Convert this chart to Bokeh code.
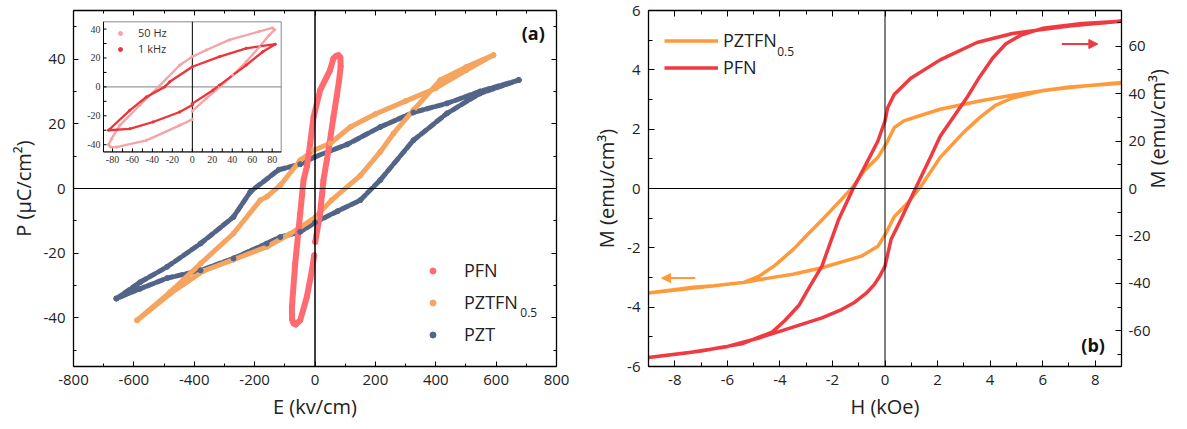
import math
from bokeh.plotting import figure
from bokeh.models import (Range1d, LinearAxis, FixedTicker, Span, Legend, LegendItem,
                          Label, Arrow, NormalHead, CustomJSTickFormatter, PrintfTickFormatter)
from bokeh.layouts import row
from bokeh.embed import file_html
from bokeh.resources import INLINE

FONT = "Open Sans"

# ---------------- data: panel (a) main P-E loops ----------------
pfn_E = [0.7, 17, 28, 44.7, 61, 72, 80, 85, 84, 78, 70, 61, 50, 17, -5, -16, -27, -38, -49, -65.6,
         -76.5, -76, -71, -64, -49, -27, -10, -2.6]
pfn_P = [-16.5, -7.7, 2.6, 11.8, 22, 28.5, 33.5, 37.8, 40.5, 41.2, 41, 40.2, 36.6, 30.4, 22, 13.9, 6.7,
         2.6, -7.7, -23.2, -36.6, -40.5, -41.7, -42, -40.7, -33.5, -25.2, -20.6]

pztfn_up_E = [591, 500, 400, 300, 200, 117, 51, -4, -49, -115, -159, -181, -270, -379, -480, -589]
pztfn_up_P = [41.2, 36.5, 31, 27, 23, 19, 14, 11.8, 8.7, 1, -2.5, -3.6, -13.9, -23.2, -32, -40.7]
pztfn_lo_E = [-589, -480, -370, -270, -159, -82, 0, 55, 150, 216, 260, 326, 415, 500, 591]
pztfn_lo_P = [-40.7, -32.5, -25.5, -22, -18, -14, -9, -3.6, 4, 11.3, 17, 24.2, 33.5, 37.5, 41.2]

pzt_up_E = [675, 547, 437, 326, 216, 106, 0, -49, -120, -214, -270, -379, -490, -580, -658]
pzt_up_P = [33.5, 30, 26.3, 23.5, 19, 13.6, 9.8, 7.5, 5.8, -1, -8.8, -17, -24.2, -29, -34]
pzt_lo_E = [-658, -580, -490, -379, -270, -160, -115, -49, 0, 75, 150, 216, 326, 437, 547, 675]
pzt_lo_P = [-34, -31, -27.7, -25.3, -21.6, -17, -15, -13.4, -10.5, -7, -3.6, 2.6, 14.9, 23.2, 29.4, 33.5]

# ---------------- data: panel (a) inset ----------------
hz50_E = [0, 14, 27.3, 40.6, 54, 67.3, 77.3, 82.5, 80, 67, 37, 14, 0, -12.7, -34, -52.7, -72.7, -81,
          -84, -82, -76, -46, -12.7, 0]
hz50_P = [-16.7, -8, 0, 8.1, 17.4, 27.8, 36, 39.5, 40.8, 38.3, 32.5, 25.5, 20.9, 15, 0, -12.7, -26.6,
          -36, -40, -41.5, -41.7, -37, -26.6, -22.5]
khz1_E = [0, 20.6, 27.3, 54, 70.6, 83, 54, 27.3, 0, -22.7, -27.7, -46, -62.7, -84, -62.7, -39.4, -12.7, 0]
khz1_P = [-11.6, -2.3, 1.2, 15.1, 24.3, 29.5, 26.7, 20.9, 13.9, 3.5, 0, -7, -16.2, -30, -29, -24.3,
          -17.4, -12.5]
inset_ticks = [-80, -60, -40, -20, 0, 20, 40, 60, 80]
inset_minor = [-70, -50, -30, -10, 10, 30, 50, 70]
inset_yticks = [-40, -20, 0, 20, 40]
inset_yminor = [-30, -10, 10, 30]

# ---------------- data: panel (b) M-H loops ----------------
mz_up_H = [9, 7, 5, 3.6, 2.1, 1.2, 0.72, 0.35, 0.04, -0.27, -0.78, -1.27, -1.8, -2.4, -3.0, -3.5, -4.2,
           -4.78, -5.4, -6.5, -7.3, -9]
mz_up_M = [3.55, 3.42, 3.17, 2.95, 2.67, 2.42, 2.28, 2.05, 1.5, 1.05, 0.61, 0, -0.5, -1.06, -1.6, -2.06,
           -2.6, -2.95, -3.17, -3.28, -3.33, -3.52]
mz_lo_H = [-9, -7, -5.4, -4.5, -3.5, -2.4, -0.9, -0.27, 0.04, 0.35, 0.85, 1.35, 2.1, 3.0, 3.6, 4.2,
           4.85, 6, 7.5, 9]
mz_lo_M = [-3.52, -3.33, -3.17, -3.03, -2.89, -2.67, -2.28, -1.95, -1.5, -0.95, -0.5, 0.05, 1.05, 1.9,
           2.39, 2.8, 3.05, 3.3, 3.45, 3.57]

pfnb_up_H = [9, 7, 4.85, 3.5, 2.1, 0.98, 0.35, 0.1, 0, -0.27, -0.78, -1.21, -1.77, -2.4, -2.9, -3.28,
             -3.8, -4.28, -5.4, -7, -9]
pfnb_up_M = [70.5, 68.5, 65.3, 61.5, 54.2, 46.5, 39.6, 34, 28.5, 20, 9, 0, -13.2, -32.7, -42, -49.3,
             -55.5, -60.4, -65.3, -68.5, -71.2]
pfnb_lo_H = [-9, -7.5, -6.03, -4.8, -3.53, -2.4, -1.65, -1.15, -0.7, -0.41, -0.2, 0, 0.23, 0.6, 1.16,
             1.73, 2.1, 2.6, 3.1, 3.6, 4.1, 4.6, 5.2, 6, 7.5, 9]
pfnb_lo_M = [-71.2, -69.2, -66.7, -63, -58.5, -54.5, -51, -47.9, -44, -40.5, -37, -32.7, -21.5, -13.2,
             0, 13.2, 22, 30, 38, 47, 55, 61, 64.8, 67.5, 69.5, 70.5]

# tick values
a_xticks = [-800, -600, -400, -200, 0, 200, 400, 600, 800]
a_xminor = [-700, -500, -300, -100, 100, 300, 500, 700]
a_yticks = [-40, -20, 0, 20, 40]
a_yminor = [-50, -30, -10, 10, 30, 50]
b_xticks = [-8, -6, -4, -2, 0, 2, 4, 6, 8]
b_xminor = [-9, -7, -5, -3, -1, 1, 3, 5, 7, 9]
b_yticks = [-6, -4, -2, 0, 2, 4, 6]
b_yminor = [-5, -3, -1, 1, 3, 5]
b_rticks = [-60, -40, -20, 0, 20, 40, 60]
b_rminor = [-70, -50, -30, -10, 10, 30, 50, 70]

C_PFN_A = "#FF6B70"
C_PZTFN_A = "#F5A55F"
C_PZT = "#526488"
C_50 = "#F5A3A5"
C_1K = "#EC343A"
C_PZTFN_B = "#FF9A3C"
C_PFN_B = "#EE3A40"


def style_axis(ax, maj_in, min_in, fs="15px"):
    ax.major_tick_in = maj_in
    ax.major_tick_out = 0
    ax.minor_tick_in = min_in
    ax.minor_tick_out = 0
    ax.axis_line_color = "black"
    ax.axis_line_width = 1.3
    ax.major_tick_line_color = "black"
    ax.minor_tick_line_color = "black"
    ax.major_label_text_font = FONT
    ax.major_label_text_font_size = fs
    ax.major_label_text_color = "#222222"
    ax.axis_label_text_font = FONT
    ax.axis_label_text_font_style = "normal"
    ax.axis_label_text_font_size = "20px"
    ax.axis_label_text_color = "#222222"
    ax.formatter = PrintfTickFormatter(format="%d")


def mirror_axis(p, loc, major, minor, maj_in, min_in, rng=None):
    kw = {}
    if rng is not None:
        kw["y_range_name"] = rng
    ax = LinearAxis(ticker=FixedTicker(ticks=major, minor_ticks=minor), **kw)
    style_axis(ax, maj_in, min_in)
    ax.formatter = CustomJSTickFormatter(code="return ''")
    ax.major_label_text_font_size = "0px"
    ax.major_label_standoff = 0
    p.add_layout(ax, loc)


# ================= panel (a) =================
pa = figure(width=590, height=429, x_range=Range1d(-800, 800), y_range=Range1d(-55, 55),
            output_backend="svg", toolbar_location=None,
            min_border_left=73, min_border_right=34, min_border_top=10, min_border_bottom=63)
pa.xgrid.visible = False
pa.ygrid.visible = False
pa.outline_line_color = None
pa.xaxis.ticker = FixedTicker(ticks=a_xticks, minor_ticks=a_xminor)
pa.yaxis.ticker = FixedTicker(ticks=a_yticks, minor_ticks=a_yminor)
for ax in pa.xaxis + pa.yaxis:
    style_axis(ax, 5, 3)
pa.xaxis.axis_label = "E (kv/cm)"
pa.yaxis.axis_label = "P (μC/cm²)"
pa.xaxis.major_label_standoff = 8
pa.yaxis.major_label_standoff = 8
pa.xaxis.axis_label_standoff = 5
pa.yaxis.axis_label_standoff = 4
mirror_axis(pa, "above", a_xticks, a_xminor, 5, 3)
mirror_axis(pa, "right", a_yticks, a_yminor, 5, 3)

pa.add_layout(Span(location=0, dimension="width", line_color="black", line_width=1.2))
pa.add_layout(Span(location=0, dimension="height", line_color="black", line_width=1.5))

pa.line(pzt_up_E + pzt_lo_E, pzt_up_P + pzt_lo_P, line_color=C_PZT, line_width=5,
        line_dash="7 3", line_cap="round", line_join="round")
pa.line(pztfn_up_E + pztfn_lo_E, pztfn_up_P + pztfn_lo_P, line_color=C_PZTFN_A, line_width=5,
        line_cap="round", line_join="round")
pa.line(pfn_E, pfn_P, line_color=C_PFN_A, line_width=6, line_cap="round", line_join="round")

r_pfn = pa.scatter(pfn_E, pfn_P, size=5, color=C_PFN_A)
r_pztfn = pa.scatter(pztfn_up_E + pztfn_lo_E, pztfn_up_P + pztfn_lo_P, size=5, color=C_PZTFN_A)
r_pzt = pa.scatter(pzt_up_E + pzt_lo_E, pzt_up_P + pzt_lo_P, size=5, color=C_PZT)

leg_a = Legend(items=[LegendItem(label="PFN", renderers=[r_pfn]),
                      LegendItem(label="PZTFN", renderers=[r_pztfn]),
                      LegendItem(label="PZT", renderers=[r_pzt])],
               location=(352, 20), glyph_width=15, glyph_height=15, label_height=15,
               label_standoff=24, spacing=8, padding=0, margin=0,
               border_line_color=None, background_fill_alpha=0,
               label_text_font=FONT, label_text_font_size="18px", label_text_color="#222222")
pa.add_layout(leg_a)
pa.add_layout(Label(x=680, y=-39.6, text="0.5", text_font=FONT, text_font_size="12px",
                    text_color="#222222"))
pa.add_layout(Label(x=723, y=48, text="(a)", text_font=FONT, text_font_size="18px",
                    text_font_style="bold", text_align="center", text_baseline="middle",
                    text_color="#111111"))

# ---- inset ----
ix = Range1d(-89, 89)
iy = Range1d(-45, 45)
sub = pa.subplot(x_source=ix, y_source=iy, x_target=Range1d(-700.6, -112),
                 y_target=Range1d(11.3, 51.5))
sub.quad(left=[ix.start], right=[ix.end], bottom=[iy.start], top=[iy.end], fill_color="white",
         line_color="#8a8a8a", line_width=1)
sub.segment(x0=[ix.start], y0=[0], x1=[ix.end], y1=[0], line_color="#9a9a9a", line_width=1.2)
sub.segment(x0=[0], y0=[iy.start], x1=[0], y1=[iy.end], line_color="black", line_width=1)
sub.segment(x0=[ix.start], y0=[iy.start], x1=[ix.end], y1=[iy.start], line_color="black", line_width=1)
sub.segment(x0=[ix.start], y0=[iy.start], x1=[ix.start], y1=[iy.end], line_color="black", line_width=1)
sub.segment(x0=inset_ticks + inset_minor, y0=[iy.start] * 17, x1=inset_ticks + inset_minor,
            y1=[iy.start + 2.5] * 17, line_color="black", line_width=1)
sub.segment(x0=[ix.start] * 9, y0=inset_yticks + inset_yminor, x1=[ix.start + 3] * 9,
            y1=inset_yticks + inset_yminor, line_color="black", line_width=1)
sub.text(x=inset_ticks, y=[iy.start] * 9, text=[str(v) for v in inset_ticks], y_offset=4,
         text_align="center", text_baseline="top", text_font_size="10px", text_font=FONT,
         text_color="#333333")
sub.text(x=[ix.start] * 5, y=inset_yticks, text=[str(v) for v in inset_yticks], x_offset=-3,
         text_align="right", text_baseline="middle", text_font_size="10px", text_font=FONT,
         text_color="#333333")
sub.line(hz50_E, hz50_P, line_color=C_50, line_width=2.3, line_join="round")
sub.line(khz1_E, khz1_P, line_color=C_1K, line_width=2.3, line_join="round")
r50 = sub.scatter(hz50_E, hz50_P, size=2.3, color=C_50)
r1k = sub.scatter(khz1_E, khz1_P, size=2.3, color=C_1K)
leg_i = Legend(items=[LegendItem(label="50 Hz", renderers=[r50]),
                      LegendItem(label="1 kHz", renderers=[r1k])],
               location=(42, 310), glyph_width=10, glyph_height=10, label_height=10,
               label_standoff=13, spacing=1, padding=0, margin=0,
               border_line_color=None, background_fill_alpha=0,
               label_text_font=FONT, label_text_font_size="11px", label_text_color="#333333")
pa.add_layout(leg_i)

# ================= panel (b) =================
pb = figure(width=597, height=429, x_range=Range1d(-9, 9), y_range=Range1d(-6, 6),
            output_backend="svg", toolbar_location=None,
            min_border_left=54, min_border_right=63, min_border_top=9, min_border_bottom=60)
pb.extra_y_ranges = {"r": Range1d(-75, 75)}
pb.xgrid.visible = False
pb.ygrid.visible = False
pb.outline_line_color = None
pb.xaxis.ticker = FixedTicker(ticks=b_xticks, minor_ticks=b_xminor)
pb.yaxis.ticker = FixedTicker(ticks=b_yticks, minor_ticks=b_yminor)
for ax in pb.xaxis + pb.yaxis:
    style_axis(ax, 6, 4)
pb.xaxis.axis_label = "H (kOe)"
pb.yaxis.axis_label = "M (emu/cm³)"
pb.xaxis.major_label_standoff = 8
pb.yaxis.major_label_standoff = 8
pb.xaxis.axis_label_standoff = 5
pb.yaxis.axis_label_standoff = 4
rax = LinearAxis(y_range_name="r", ticker=FixedTicker(ticks=b_rticks, minor_ticks=b_rminor),
                 axis_label="M (emu/cm³)")
style_axis(rax, 6, 4)
rax.major_label_standoff = 7
rax.axis_label_standoff = 4
if "axis_label_orientation" in rax.properties():
    rax.axis_label_orientation = math.pi / 2
pb.add_layout(rax, "right")
mirror_axis(pb, "above", b_xticks, b_xminor, 6, 4)

pb.add_layout(Span(location=0, dimension="width", line_color="black", line_width=1))
pb.add_layout(Span(location=0, dimension="height", line_color="black", line_width=1))

r_mz = pb.line(mz_up_H + mz_lo_H, mz_up_M + mz_lo_M, line_color=C_PZTFN_B, line_width=3.5,
               line_join="round")
r_mf = pb.line(pfnb_up_H + pfnb_lo_H, pfnb_up_M + pfnb_lo_M, y_range_name="r",
               line_color=C_PFN_B, line_width=3.5, line_join="round")

leg_b = Legend(items=[LegendItem(label="PZTFN", renderers=[r_mz]),
                      LegendItem(label="PFN", renderers=[r_mf])],
               location=(16, 287), glyph_width=54, glyph_height=15, label_height=15,
               label_standoff=5, spacing=3, padding=0, margin=0,
               border_line_color=None, background_fill_alpha=0,
               label_text_font=FONT, label_text_font_size="18px", label_text_color="#222222")
pb.add_layout(leg_b)
pb.add_layout(Label(x=-4.1, y=4.45, text="0.5", text_font=FONT, text_font_size="12px",
                    text_color="#222222"))

pb.add_layout(Arrow(end=NormalHead(size=9, fill_color=C_PZTFN_B, line_color=C_PZTFN_B),
                    x_start=-7.22, y_start=-3.02, x_end=-8.5, y_end=-3.02,
                    line_color=C_PZTFN_B, line_width=2))
pb.add_layout(Arrow(end=NormalHead(size=9, fill_color=C_PFN_B, line_color=C_PFN_B),
                    x_start=6.73, y_start=4.87, x_end=8.1, y_end=4.87,
                    line_color=C_PFN_B, line_width=2))
pb.add_layout(Label(x=7.92, y=-5.26, text="(b)", text_font=FONT, text_font_size="18px",
                    text_font_style="bold", text_align="center", text_baseline="middle",
                    text_color="#111111"))

layout = row(pa, pb)
open("out.html", "w").write(file_html(layout, INLINE))
